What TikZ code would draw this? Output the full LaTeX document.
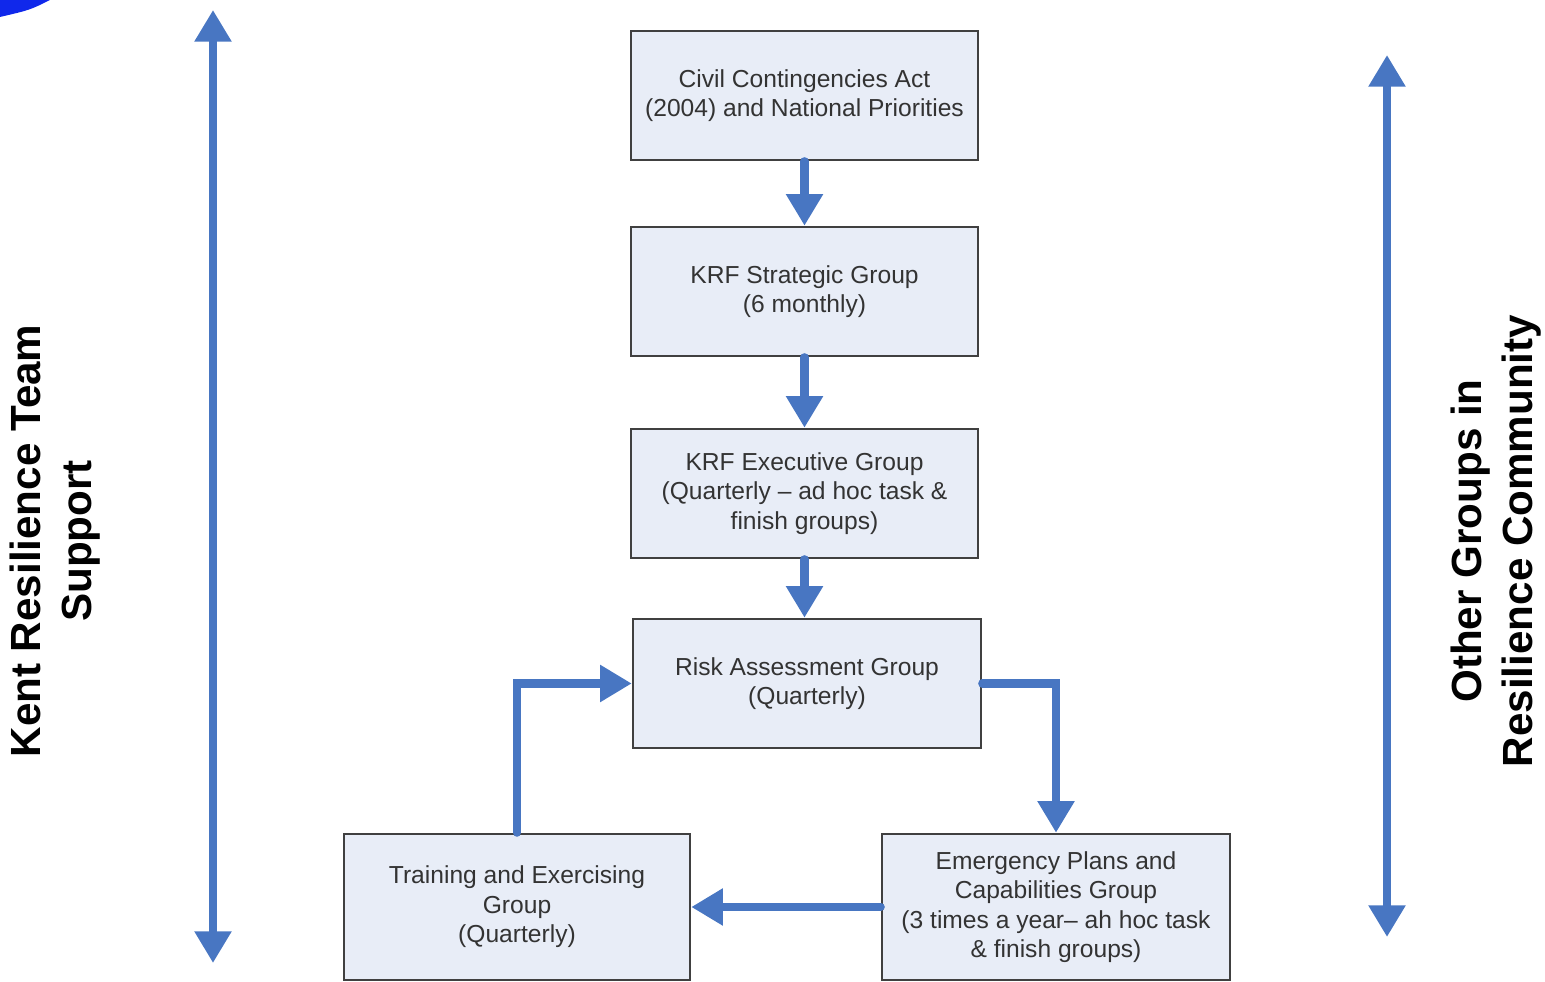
\documentclass[tikz,border=0pt]{standalone}
\usepackage{fontspec}
\setmainfont{Liberation Sans}
\usetikzlibrary{arrows.meta}
\definecolor{krfblue}{RGB}{72,118,194}
\definecolor{krfbox}{RGB}{232,237,247}
\definecolor{krfcorner}{RGB}{16,40,235}

\begin{document}
\begin{tikzpicture}[
  grpbox/.style={draw=black!75, fill=krfbox, line width=0.7pt, minimum width=3.47cm,
    minimum height=1.29cm, align=center, inner sep=0pt,
    font=\fontsize{7}{8.4}\selectfont, text=black!80},
  flow/.style={krfblue, line width=2.3pt, line cap=round,
    -{Triangle[length=9pt,width=10pt]}},
  span/.style={krfblue, line width=2.3pt,
    {Triangle[length=9pt,width=10pt]}-{Triangle[length=9pt,width=10pt]}},
  sidelbl/.style={rotate=90, align=center, font=\fontsize{12}{14.5}\selectfont\bfseries}]
\useasboundingbox (0,0) rectangle (15.45,9.82);
% Corner fragment
\fill[krfcorner] (0,9.82) -- (0.5,9.82) .. controls (0.3,9.72) .. (0,9.65) -- cycle;
% Groups
\node[grpbox] (act) at (8.045,8.865) {Civil Contingencies Act\\(2004) and National Priorities};
\node[grpbox] (strat) at (8.045,6.905) {KRF Strategic Group\\(6 monthly)};
\node[grpbox] (exec) at (8.045,4.885) {KRF Executive Group\\(Quarterly \textendash{} ad hoc task \&\\finish groups)};
\node[grpbox, minimum width=3.48cm] (risk) at (8.07,2.985) {Risk Assessment Group\\(Quarterly)};
\node[grpbox, minimum width=3.46cm, minimum height=1.46cm] (train) at (5.17,0.75)
  {Training and Exercising\\Group\\(Quarterly)};
\node[grpbox, minimum width=3.48cm, minimum height=1.46cm] (emerg) at (10.56,0.75)
  {Emergency Plans and\\Capabilities Group\\(3 times a year\textendash{} ah hoc task\\\& finish groups)};
% Flow between groups
\draw[flow] (act) -- (strat);
\draw[flow] (strat) -- (exec);
\draw[flow] (exec.south) -- (exec.south |- risk.north);
\draw[flow] (risk.east) -| (emerg.north);
\draw[flow] (emerg.west) -- (train.east);
\draw[flow] (train.north) |- (risk.west);
% Side arrows and labels
\coordinate (ltop) at (2.13,9.72);
\coordinate (lbot) at (2.13,0.19);
\coordinate (rtop) at (13.87,9.27);
\coordinate (rbot) at (13.87,0.45);
\draw[span] (ltop) -- (lbot);
\draw[span] (rtop) -- (rbot);
\node[sidelbl] (kent) at (0.55,4.41) {Kent Resilience Team\\Support};
\node[sidelbl] (other) at (14.96,4.41) {Other Groups in\\Resilience Community};
\end{tikzpicture}
\end{document}
